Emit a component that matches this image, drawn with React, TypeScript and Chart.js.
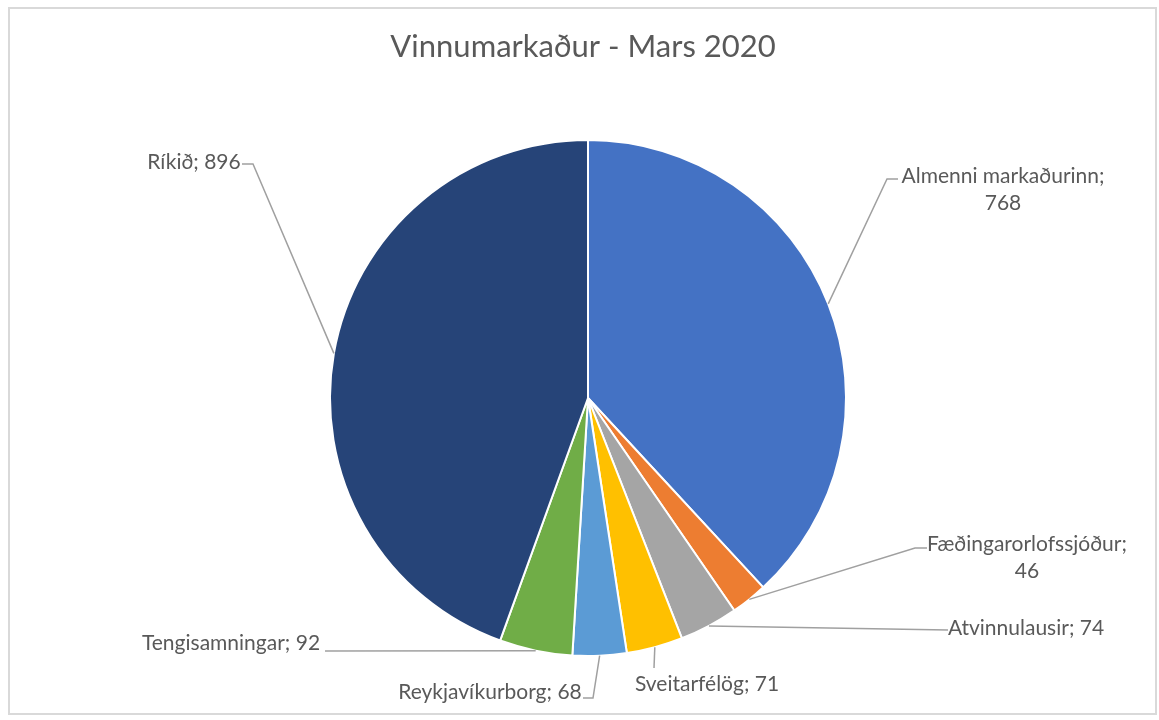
import React, { useEffect, useRef } from "react";
import { Chart, registerables } from "chart.js";

Chart.register(...registerables);

const TITLE = "Vinnumarkaður - Mars 2020";
const categories = [
  "Almenni markaðurinn",
  "Fæðingarorlofssjóður",
  "Atvinnulausir",
  "Sveitarfélög",
  "Reykjavíkurborg",
  "Tengisamningar",
  "Ríkið",
];
const values = [768, 46, 74, 71, 68, 92, 896];
const colors = ["#4472C4", "#ED7D31", "#A5A5A5", "#FFC000", "#5B9BD5", "#70AD47", "#264478"];

// label text lines for each slice
const labelLines = [
  ["Almenni markaðurinn;", "768"],
  ["Fæðingarorlofssjóður;", "46"],
  ["Atvinnulausir; 74"],
  ["Sveitarfélög; 71"],
  ["Reykjavíkurborg; 68"],
  ["Tengisamningar; 92"],
  ["Ríkið; 896"],
];
// label placement relative to pie center: text block center x, first line y
const labelPos = [
  [415, -222],
  [439, 146],
  [438, 230],
  [119, 286],
  [-98, 294],
  [-357, 245],
  [-394, -236],
];
// leader elbow points relative to pie center
const leaderPts = [
  [[299, -219], [310, -219]],
  [[327, 150], [339, 150]],
  [[360, 232]],
  [[66, 270]],
  [[5, 300], [-5, 300]],
  [[-263, 253]],
  [[-335, -234], [-346, -234]],
];

const FONT = "Lato, 'Open Sans', sans-serif";

const labelPlugin = {
  id: "labelPlugin",
  beforeDraw(chart: any) {
    const ctx = chart.ctx;
    ctx.save();
    ctx.fillStyle = "#ffffff";
    ctx.fillRect(0, 0, chart.width, chart.height);
    ctx.strokeStyle = "#d9d9d9";
    ctx.lineWidth = 2;
    ctx.strokeRect(9, 8, 1147, 706);
    ctx.restore();
  },
  afterDraw(chart: any) {
    const ctx = chart.ctx;
    const meta = chart.getDatasetMeta(0);
    ctx.save();
    // title
    ctx.fillStyle = "#595959";
    ctx.font = `31px ${FONT}`;
    ctx.textAlign = "center";
    ctx.textBaseline = "middle";
    ctx.fillText(TITLE, 583, 47);

    meta.data.forEach((arc: any, i: number) => {
      const { x, y, startAngle, endAngle, outerRadius } = arc.getProps(
        ["x", "y", "startAngle", "endAngle", "outerRadius"],
        true
      );
      const mid = (startAngle + endAngle) / 2;
      const px = x + Math.cos(mid) * outerRadius;
      const py = y + Math.sin(mid) * outerRadius;
      ctx.strokeStyle = "#A0A0A0";
      ctx.lineWidth = 1.5;
      ctx.beginPath();
      ctx.moveTo(px, py);
      leaderPts[i].forEach(([dx, dy]) => ctx.lineTo(x + dx, y + dy));
      ctx.stroke();

      ctx.fillStyle = "#595959";
      ctx.font = `21px ${FONT}`;
      ctx.textAlign = "center";
      ctx.textBaseline = "middle";
      const [lx, ly] = labelPos[i];
      labelLines[i].forEach((line, k) => {
        ctx.fillText(line, x + lx, y + ly + k * 27);
      });
    });
    ctx.restore();
  },
};

export default function App() {
  const ref = useRef<HTMLCanvasElement>(null);
  useEffect(() => {
    if (!ref.current) return;
    const chart = new Chart(ref.current, {
      type: "pie",
      data: {
        labels: categories,
        datasets: [
          {
            data: values,
            backgroundColor: colors,
            borderColor: "#ffffff",
            borderWidth: 2,
          },
        ],
      },
      options: {
        responsive: false,
        animation: false,
        layout: { padding: { left: 329, right: 312, top: 139, bottom: 63 } },
        plugins: {
          legend: { display: false },
          title: { display: false },
          tooltip: { enabled: false },
        },
      },
      plugins: [labelPlugin],
    });
    return () => chart.destroy();
  }, []);
  return (
    <div style={{ position: "fixed", left: 0, top: 0, width: 1159, height: 720 }}>
      <canvas ref={ref} width={1159} height={720} style={{ display: "block" }} />
    </div>
  );
}
